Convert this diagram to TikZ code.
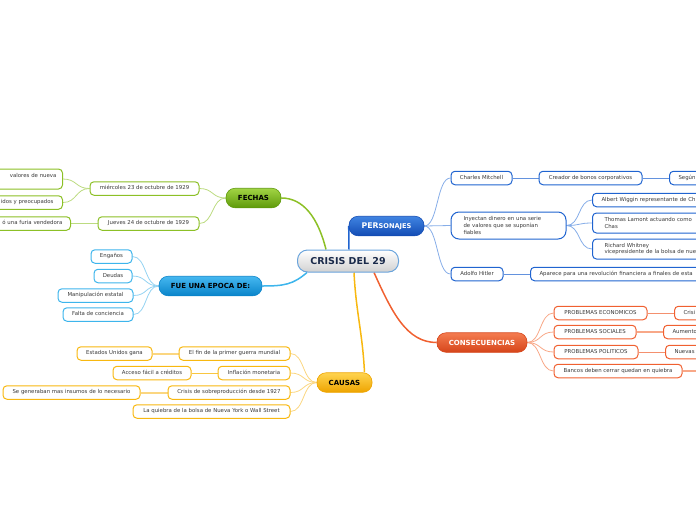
\documentclass[tikz,border=0pt]{standalone}
\usepackage{fontspec}
\setmainfont{DejaVu Sans}
\usetikzlibrary{calc}
\definecolor{gB}{HTML}{8CC026}\definecolor{gL}{HTML}{BCDB80}\definecolor{gT}{HTML}{A2D444}\definecolor{gD}{HTML}{5E9A0A}
\definecolor{eB}{HTML}{3DB5EC}\definecolor{eL}{HTML}{94D3F2}\definecolor{eT}{HTML}{45B8F0}\definecolor{eD}{HTML}{0A84CA}
\definecolor{pB}{HTML}{2064D0}\definecolor{pL}{HTML}{86ADE8}\definecolor{pT}{HTML}{4084E2}\definecolor{pD}{HTML}{134CB4}
\definecolor{cB}{HTML}{F06030}\definecolor{cL}{HTML}{F8A888}\definecolor{cT}{HTML}{F47C50}\definecolor{cD}{HTML}{D6451A}
\definecolor{yB}{HTML}{F8B810}\definecolor{yL}{HTML}{FBD680}\definecolor{yT}{HTML}{FFD450}\definecolor{yD}{HTML}{EEA400}
\definecolor{txt}{HTML}{3A3A3A}\definecolor{navy}{HTML}{1A2A4A}\definecolor{ctrB}{HTML}{6AA4DC}
\pgfdeclarelayer{bg}\pgfsetlayers{bg,main}
\begin{document}
\begin{tikzpicture}[x=1pt,y=-1pt,
  leafbase/.style={draw, line width=1pt, rounded corners=4pt, fill=white, text=txt,
    font=\fontsize{5.4}{6.6}\selectfont, inner xsep=6pt, inner ysep=0pt, minimum height=13.5pt},
  leaf/.style={leafbase, text height=4pt, text depth=1.2pt},
  leafm/.style={leafbase},
  mainn/.style={draw, line width=0.6pt, rounded corners=9pt, font=\fontsize{7}{8}\selectfont\bfseries,
    inner sep=0pt, minimum height=19.5pt},
  con/.style={line width=0.8pt},
  mcon/.style={line width=1.5pt},
]
\useasboundingbox (0,0) rectangle (696,520);
\clip (0,0) rectangle (696,520);
% central
\node[mainn, rounded corners=10pt, top color=white, bottom color=black!18, draw=ctrB, line width=1pt,
  text=navy, font=\fontsize{9.5}{10}\selectfont\bfseries, minimum width=101pt, minimum height=22pt] (crisis) at (348,261) {CRISIS DEL 29};
% FECHAS
\node[mainn, top color=gT, bottom color=gD, draw=gD, minimum width=55pt] (fechas) at (253.5,198) {FECHAS};
\node[leaf, draw=gB, minimum width=109pt] (m23) at (144.5,188.5) {miércoles 23 de octubre de 1929};
\node[leaf, draw=gB, minimum width=101pt] (j24) at (148.5,223.5) {Jueves 24 de octubre de 1929};
\node[leafm, draw=gB, anchor=east, text width=80pt, align=right, minimum height=20pt] (f1) at (63,179) {valores de nueva\hspace*{12pt}\\\mbox{}};
\node[leaf, draw=gB, anchor=east, text width=70pt, align=right] (f2) at (63,202.5) {idos y preocupados\hspace*{3pt}};
\node[leaf, draw=gB, anchor=east, text width=75pt, align=right] (f3) at (71,223.5) {ó una furia vendedora\hspace*{2pt}};
% FUE UNA EPOCA DE
\node[mainn, top color=eT, bottom color=eD, draw=eD, minimum width=103pt] (ep) at (210.5,286) {FUE UNA EPOCA DE:};
\node[leaf, draw=eB, minimum width=41pt] (e1) at (111.5,256.5) {Engaños};
\node[leaf, draw=eB, minimum width=38pt] (e2) at (113,276) {Deudas};
\node[leaf, draw=eB, minimum width=75pt] (e3) at (95.5,295.5) {Manipulación estatal};
\node[leaf, draw=eB, minimum width=70pt] (e4) at (98,314.5) {Falta de conciencia};
% PERSONAJES
\node[mainn, top color=pT, bottom color=pD, draw=pD, text=white, minimum width=75pt] (pers) at (386.5,226) {{\fontsize{7.8}{8}\selectfont PER}{\fontsize{6.6}{8}\selectfont SONAJES}};
\node[leaf, draw=pB, minimum width=61pt] (p1) at (481.5,178) {Charles Mitchell};
\node[leaf, draw=pB, minimum width=103pt] (p1a) at (590.5,178) {Creador de bonos corporativos};
\node[leaf, draw=pB, anchor=west, text width=50pt, align=left, inner xsep=9pt] (p1b) at (669,178) {Según};
\node[leafm, draw=pB, minimum width=115pt, text width=90pt, align=left, minimum height=27pt, rounded corners=8pt] (p2) at (508.5,225.5) {Inyectan dinero en una serie\\de valores que se suponían\\fiables};
\node[leaf, draw=pB, anchor=west, text width=130pt, align=left, inner xsep=9pt] (p2a) at (592,200) {Albert Wiggin representante de Ch};
\node[leafm, draw=pB, anchor=west, text width=130pt, align=left, inner xsep=12pt, minimum height=20pt] (p2b) at (592,223) {Thomas Lamont actuando como\\Chas};
\node[leafm, draw=pB, anchor=west, text width=130pt, align=left, inner xsep=12pt, minimum height=20pt] (p2c) at (592,249) {Richard Whitney\\vicepresidente de la bolsa de nue};
\node[leaf, draw=pB, minimum width=52pt] (p3) at (477,274) {Adolfo Hitler};
\node[leaf, draw=pB, anchor=west, text width=200pt, align=left, inner xsep=9pt] (p3a) at (530,274) {Aparece para una revolución financiera a finales de esta};
% CONSECUENCIAS
\node[mainn, top color=cT, bottom color=cD, draw=cD, text=white, minimum width=90pt] (cons) at (482,342.5) {CONSECUENCIAS};
\node[leaf, draw=cB, minimum width=93pt] (c1) at (600.5,313) {PROBLEMAS ECONOMICOS};
\node[leaf, draw=cB, anchor=west, text width=50pt, align=left, inner xsep=9pt] (c1a) at (674,313) {Crisi};
\node[leaf, draw=cB, minimum width=82pt] (c2) at (595,332) {PROBLEMAS SOCIALES};
\node[leaf, draw=cB, anchor=west, text width=50pt, align=left, inner xsep=9pt] (c2a) at (663,332) {Aumento};
\node[leaf, draw=cB, minimum width=84pt] (c3) at (596,352) {PROBLEMAS POLITICOS};
\node[leaf, draw=cB, anchor=west, text width=50pt, align=left, inner xsep=9pt] (c3a) at (665,352) {Nuevas};
\node[leaf, draw=cB, minimum width=128pt] (c4) at (618,371) {Bancos deben cerrar quedan en quiebra};
\coordinate (c4a) at (696,371);
% CAUSAS
\node[mainn, top color=yT, bottom color=yD, draw=yD, minimum width=55pt] (cau) at (344.5,382.5) {CAUSAS};
\node[leaf, draw=yB, minimum width=111pt] (k1) at (234.5,353.5) {El fin de la primer guerra mundial};
\node[leaf, draw=yB, minimum width=75pt] (k1a) at (114.5,353.5) {Estados Unidos gana};
\node[leaf, draw=yB, minimum width=72pt] (k2) at (254,373) {Inflación monetaria};
\node[leaf, draw=yB, minimum width=78pt] (k2a) at (152,373) {Acceso fácil a créditos};
\node[leaf, draw=yB, minimum width=122pt] (k3) at (229,392.5) {Crisis de sobreproducción desde 1927};
\node[leaf, draw=yB, minimum width=137pt] (k3a) at (71.5,392.5) {Se generaban mas insumos de lo necesario};
\node[leaf, draw=yB, minimum width=157pt] (k4) at (211.5,411.5) {La quiebra de la bolsa de Nueva York o Wall Street};
% connectors
\begin{pgfonlayer}{bg}
\draw[mcon, draw=gB] ($(crisis.north)+(-22,0)$) .. controls +(-8,-32) and +(22,0) .. (fechas.east);
\draw[mcon, draw=pB] ($(crisis.north)+(1,0)$) -- (pers.west);
\draw[mcon, draw=eB] ($(crisis.south west)+(10,0)$) .. controls +(-14,12) and +(22,0) .. (ep.east);
\draw[mcon, draw=yB] ($(crisis.south)+(6,0)$) .. controls +(2,40) and +(-2,-40) .. ($(cau.north)+(20,0)$);
\draw[mcon, draw=cB] ($(crisis.south)+(26,0)$) .. controls +(18,40) and +(-30,0) .. (cons.west);
% fechas
\foreach \n in {m23,j24}
  \draw[con, draw=gL] (fechas.west) .. controls +(-14,0) and +(14,0) .. (\n.east);
\foreach \n in {f1,f2}
  \draw[con, draw=gL] (m23.west) .. controls +(-14,0) and +(14,0) .. (\n.east);
\draw[line width=1.5pt, draw=gL] (j24.west) -- (f3.east);
% epoca
\foreach \n in {e1,e2,e3,e4}
  \draw[con, draw=eL] (ep.west) .. controls +(-14,0) and +(14,0) .. (\n.east);
% personajes
\foreach \n in {p1,p2,p3}
  \draw[con, draw=pL] (pers.east) .. controls +(14,0) and +(-14,0) .. (\n.west);
\foreach \n in {p2a,p2b,p2c}
  \draw[con, draw=pL] (p2.east) .. controls +(14,0) and +(-14,0) .. (\n.west);
\draw[line width=1pt, draw=pB!70] (p1.east) -- (p1a.west);
\draw[line width=1pt, draw=pB!70] (p1a.east) -- (p1b.west);
\draw[line width=1pt, draw=pB!70] (p3.east) -- (p3a.west);
% consecuencias
\foreach \n in {c1,c2,c3,c4}
  \draw[con, draw=cL] (cons.east) .. controls +(14,0) and +(-14,0) .. (\n.west);
\draw[line width=1pt, draw=cB!70] (c1.east) -- (c1a.west);
\draw[line width=2pt, draw=cL] (c2.east) -- (c2a.west);
\draw[line width=1pt, draw=cB!70] (c3.east) -- (c3a.west);
\draw[line width=2pt, draw=cL] (c4.east) -- (c4a);
% causas
\foreach \n in {k1,k2,k3,k4}
  \draw[con, draw=yL] (cau.west) .. controls +(-14,0) and +(14,0) .. (\n.east);
\draw[line width=2pt, draw=yL] (k1.west) -- (k1a.east);
\draw[line width=1pt, draw=yB!80] (k2.west) -- (k2a.east);
\draw[line width=2pt, draw=yL] (k3.west) -- (k3a.east);
\end{pgfonlayer}
\end{tikzpicture}
\end{document}
